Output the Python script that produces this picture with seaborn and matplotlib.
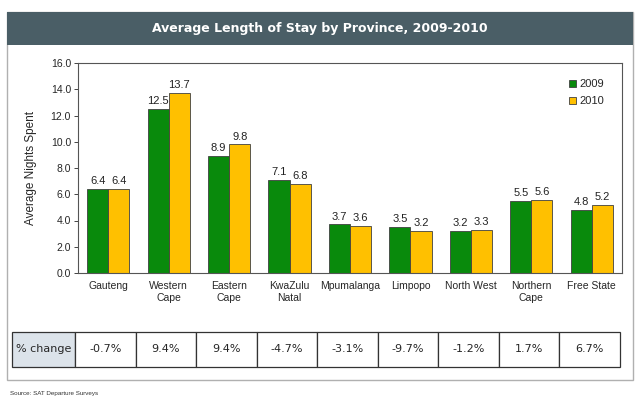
import matplotlib
matplotlib.use("Agg")
import matplotlib.pyplot as plt
import seaborn as sns
import pandas as pd
from matplotlib.patches import Rectangle

provinces = ["Gauteng", "Western\nCape", "Eastern\nCape", "KwaZulu\nNatal", "Mpumalanga",
             "Limpopo", "North West", "Northern\nCape", "Free State"]
nights_2009 = [6.4, 12.5, 8.9, 7.1, 3.7, 3.5, 3.2, 5.5, 4.8]
nights_2010 = [6.4, 13.7, 9.8, 6.8, 3.6, 3.2, 3.3, 5.6, 5.2]
pct_change = ["-0.7%", "9.4%", "9.4%", "-4.7%", "-3.1%", "-9.7%", "-1.2%", "1.7%", "6.7%"]
years = ["2009", "2010"]
yticks = [0, 2, 4, 6, 8, 10, 12, 14, 16]

sns.set_theme(style="white")
plt.rcParams["font.family"] = ["Liberation Sans", "DejaVu Sans"]

df = pd.DataFrame({
    "Province": provinces * 2,
    "Year": [years[0]] * len(provinces) + [years[1]] * len(provinces),
    "Nights": nights_2009 + nights_2010,
})

W, H = 640, 399
fig = plt.figure(figsize=(W / 100, H / 100), dpi=100)
fig.patch.set_facecolor("white")

def fx(px):
    return px / W

def fy(py):
    return 1 - py / H

# outer frame and title banner
fig.patches.append(Rectangle((fx(7), fy(380)), fx(633) - fx(7), fy(12) - fy(380),
                             transform=fig.transFigure, facecolor="none",
                             edgecolor="#b0b0b0", linewidth=1.0, zorder=0))
fig.patches.append(Rectangle((fx(7), fy(45)), fx(633) - fx(7), fy(12) - fy(45),
                             transform=fig.transFigure, facecolor="#4a5e66",
                             edgecolor="#4a5e66", linewidth=0, zorder=1))
fig.text(0.5, fy(28.5), "Average Length of Stay by Province, 2009-2010", color="white",
         ha="center", va="center", fontsize=9, fontweight="bold", family="DejaVu Sans")

ax = fig.add_axes([fx(78), fy(273), fx(622) - fx(78), fy(63) - fy(273)])
palette = {"2009": "#098a0c", "2010": "#ffc000"}
sns.barplot(data=df, x="Province", y="Nights", hue="Year", palette=palette,
            width=0.7, edgecolor="#404040", linewidth=0.6, saturation=1, ax=ax)

for cont in ax.containers:
    ax.bar_label(cont, fmt="%.1f", fontsize=8, padding=2, color="#222222")

ax.set_ylim(0, 16)
ax.set_yticks(yticks)
ax.set_yticklabels([f"{v:.1f}" for v in yticks], fontsize=7.5)
ax.tick_params(axis="x", labelsize=7.5, length=0, pad=6)
ax.tick_params(axis="y", length=3, width=0.6, left=True, pad=2)
ax.set_xlabel("")
ax.set_ylabel("Average Nights Spent", fontsize=8.5, labelpad=10)
for s in ax.spines.values():
    s.set_color("#555555")
    s.set_linewidth(0.8)

leg = ax.legend(loc="upper right", frameon=False, fontsize=8, handlelength=0.6,
                handleheight=0.6, handletextpad=0.3, labelspacing=0.6,
                bbox_to_anchor=(0.985, 0.97))

# % change table
tax = fig.add_axes([fx(12), fy(367), fx(620) - fx(12), fy(332) - fy(367)])
tax.axis("off")
cells = [["% change"] + pct_change]
first_w = 63
other_w = (620 - 12 - first_w) / len(pct_change)
col_w = [first_w / (620 - 12)] + [other_w / (620 - 12)] * len(pct_change)
tbl = tax.table(cellText=cells, colWidths=col_w, bbox=[0, 0, 1, 1], cellLoc="center")
tbl.auto_set_font_size(False)
for (r, c), cell in tbl.get_celld().items():
    cell.set_edgecolor("#333333")
    cell.set_linewidth(0.9)
    cell.get_text().set_fontsize(8)
    cell.get_text().set_family("DejaVu Sans")
    if c == 0:
        cell.set_facecolor("#dce3ea")

fig.text(fx(10), fy(393), "Source: SAT Departure Surveys", fontsize=4.5, color="#333333",
         ha="left", va="center")

fig.savefig("out.png", dpi=100)
